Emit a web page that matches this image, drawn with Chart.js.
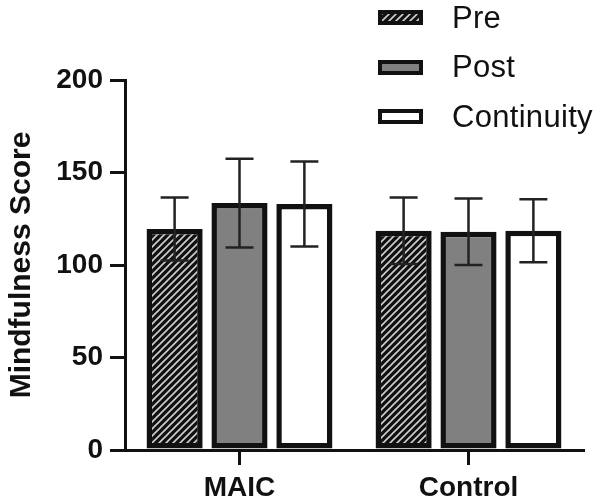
<!DOCTYPE html>
<html>
<head>
<meta charset="utf-8">
<script src="https://cdn.jsdelivr.net/npm/chart.js@4/dist/chart.umd.min.js"></script>
<style>
  body { margin: 0; background: #fff; }
  #wrap { position: relative; width: 605px; height: 503px; }
  #legend { position: absolute; left: 378px; top: 0px; font-family: "Liberation Sans", Arial, sans-serif; }
  .row { display: flex; align-items: center; height: 49.5px; margin-top: -7px; margin-bottom: 7px; }
  .box { width: 37px; height: 7px; border: 4px solid #111; margin-right: 29px; }
  .lbl { font-size: 31px; letter-spacing: 0.3px; color: #111; }
</style>
</head>
<body>
<div id="wrap">
  <canvas id="chart"></canvas>
  <div id="legend"></div>
</div>
<script>
// data
const categories = ['MAIC', 'Control'];
const seriesLabels = ['Pre', 'Post', 'Continuity'];
const preMean = [119.5, 118.5];
const preSd = [17, 18];
const postMean = [133.5, 118];
const postSd = [24, 18];
const contMean = [133, 118.5];
const contSd = [23, 17];
const yMin = 0, yMax = 200, yStep = 50;

const FONT = '"Liberation Sans", Arial, sans-serif';

// hatch for the Pre bars
function makeHatch() {
    const c = document.createElement('canvas');
    c.width = 7; c.height = 7;
    const g = c.getContext('2d');
    g.fillStyle = '#111';
    g.fillRect(0, 0, 7, 7);
    g.strokeStyle = '#cfcfcf';
    g.lineWidth = 1.6;
    g.beginPath();
    g.moveTo(-2, 9); g.lineTo(9, -2);
    g.moveTo(-2, 2); g.lineTo(2, -2);
    g.moveTo(5, 9); g.lineTo(9, 5);
    g.stroke();
    return c;
}
const hatchCanvas = makeHatch();
const hatch = hatchCanvas.getContext('2d').createPattern(hatchCanvas, 'repeat');

const fills = [hatch, '#808080', '#ffffff'];
const means = [preMean, postMean, contMean];
const sds = [preSd, postSd, contSd];

// error bars drawn through the y scale
const errorBars = {
    id: 'errorBars',
    afterDatasetsDraw(chart) {
        const ctx = chart.ctx;
        const y = chart.scales.y;
        ctx.save();
        ctx.strokeStyle = '#222';
        ctx.lineWidth = 2.5;
        chart.data.datasets.forEach((ds, i) => {
            chart.getDatasetMeta(i).data.forEach((bar, j) => {
                const top = y.getPixelForValue(ds.data[j] + ds.sd[j]);
                const bot = y.getPixelForValue(ds.data[j] - ds.sd[j]);
                const half = 14;
                ctx.beginPath();
                ctx.moveTo(bar.x, top); ctx.lineTo(bar.x, bot);
                ctx.moveTo(bar.x - half, top); ctx.lineTo(bar.x + half, top);
                ctx.moveTo(bar.x - half, bot); ctx.lineTo(bar.x + half, bot);
                ctx.stroke();
            });
        });
        ctx.restore();
    }
};

const chart = new Chart(document.getElementById('chart'), {
    type: 'bar',
    data: {
        labels: categories,
        datasets: seriesLabels.map((name, i) => ({
            label: name,
            data: means[i],
            sd: sds[i],
            backgroundColor: fills[i],
            borderColor: '#111',
            borderWidth: 5.5,
            borderSkipped: false,
            categoryPercentage: 0.85,
            barPercentage: 0.865
        }))
    },
    options: {
        responsive: true,
        maintainAspectRatio: false,
        animation: false,
        layout: { padding: { left: 0, right: 22, top: 80, bottom: 0 } },
        plugins: { legend: { display: false }, tooltip: { enabled: false } },
        scales: {
            x: {
                afterFit: s => { s.height = 53; },
                border: { color: '#111', width: 3 },
                grid: { drawOnChartArea: false, offset: false, color: '#111', lineWidth: 3, tickLength: 15 },
                ticks: { color: '#111', padding: 6, font: { family: FONT, size: 28, weight: 'bold' } }
            },
            y: {
                min: yMin, max: yMax,
                afterFit: s => { s.width = 125; },
                border: { color: '#111', width: 3 },
                grid: { drawOnChartArea: false, color: '#111', lineWidth: 3, tickLength: 15 },
                ticks: { stepSize: yStep, color: '#111', padding: 7, font: { family: FONT, size: 28, weight: 'bold' } },
                title: { display: true, text: 'Mindfulness Score', color: '#111', padding: { top: 4, bottom: 4 },
                         font: { family: FONT, size: 30, weight: 'bold' } }
            }
        }
    },
    plugins: [errorBars]
});

// legend stacked top right
const legend = document.getElementById('legend');
const hatchUrl = hatchCanvas.toDataURL();
seriesLabels.forEach((name, i) => {
    const row = document.createElement('div');
    row.className = 'row';
    const box = document.createElement('div');
    box.className = 'box';
    if (i === 0) box.style.backgroundImage = 'url(' + hatchUrl + ')';
    else box.style.background = fills[i];
    const lbl = document.createElement('span');
    lbl.className = 'lbl';
    lbl.textContent = name;
    row.appendChild(box);
    row.appendChild(lbl);
    legend.appendChild(row);
});
</script>
</body>
</html>
